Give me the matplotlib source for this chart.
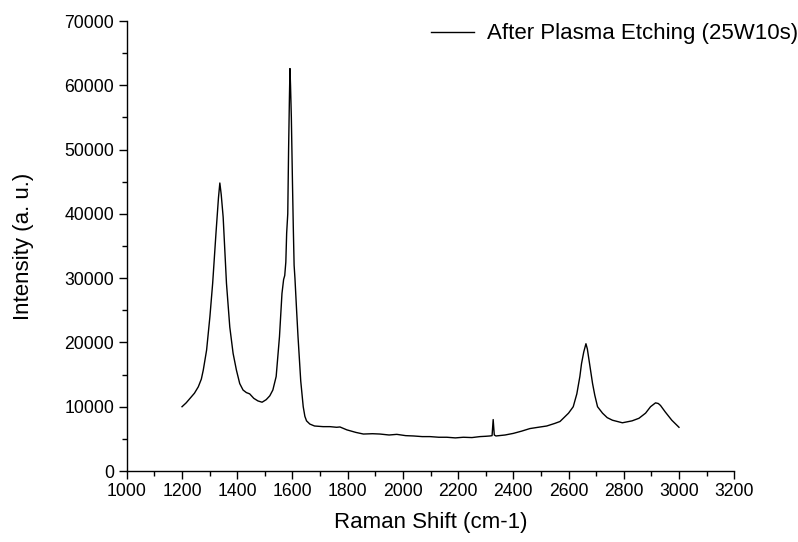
import matplotlib
matplotlib.use("Agg")
import matplotlib.pyplot as plt
from matplotlib.ticker import MultipleLocator

plt.rcParams['font.family'] = ['Liberation Sans', 'DejaVu Sans']

series_label = "After Plasma Etching (25W10s)"
x_label = "Raman Shift (cm-1)"
y_label = "Intensity (a. u.)"

raman_shift = [1200, 1215, 1229, 1245, 1259, 1270, 1277, 1289, 1301, 1311, 1323, 1332,
               1337, 1342, 1349, 1361, 1373, 1385, 1397, 1409, 1421, 1433, 1445, 1460,
               1475, 1490, 1505, 1518, 1529, 1541, 1553, 1562, 1568, 1572, 1576, 1579,
               1583, 1586, 1589, 1591, 1593, 1596, 1600, 1603, 1606, 1609, 1615, 1620,
               1625, 1630, 1639, 1645, 1651, 1663, 1680, 1711, 1736, 1760, 1772, 1797,
               1830, 1857, 1890, 1917, 1950, 1978, 2010, 2038, 2070, 2098, 2130, 2159,
               2190, 2219, 2250, 2279, 2300, 2315, 2323, 2327, 2331, 2337, 2370, 2400,
               2430, 2460, 2490, 2521, 2550, 2569, 2581, 2600, 2617, 2630, 2641, 2647,
               2655, 2663, 2668, 2674, 2687, 2695, 2705, 2723, 2740, 2759, 2795, 2830,
               2855, 2879, 2897, 2915, 2925, 2933, 2950, 2974, 3000]

intensity = [10000, 10600, 11300, 12100, 13100, 14300, 15700, 18800, 24000, 29200, 37000, 42500,
             44800, 43000, 39500, 29200, 22400, 18300, 15700, 13600, 12600, 12200, 12000, 11300,
             10900, 10700, 11100, 11700, 12600, 14700, 20900, 27600, 29800, 30400, 32500, 37000,
             40000, 50000, 58000, 62600, 60000, 55000, 45000, 38000, 32000, 30000, 25000, 21000,
             17500, 14000, 10000, 8500, 7800, 7300, 7000, 6900, 6900, 6800, 6850, 6400,
             6000, 5750, 5800, 5750, 5600, 5700, 5500, 5450, 5350, 5350, 5250, 5250,
             5150, 5250, 5200, 5350, 5400, 5450, 5500, 8000, 5600, 5450, 5600, 5850,
             6200, 6600, 6800, 7000, 7400, 7700, 8200, 9000, 10000, 12000, 14700, 16700,
             18500, 19800, 19000, 17300, 13600, 11800, 10000, 9000, 8300, 7900, 7500, 7800,
             8200, 9000, 10000, 10600, 10500, 10200, 9200, 7900, 6800]

fig = plt.figure(figsize=(7.98, 5.42), dpi=100)
ax = fig.add_axes([126.8 / 798, 1 - 471 / 542, (734.2 - 126.8) / 798, (471 - 21) / 542])

ax.plot(raman_shift, intensity, color='black', linewidth=1.0, label=series_label)

ax.set_xlim(1000, 3200)
ax.set_ylim(0, 70000)
ax.xaxis.set_major_locator(MultipleLocator(200))
ax.xaxis.set_minor_locator(MultipleLocator(100))
ax.yaxis.set_major_locator(MultipleLocator(10000))
ax.yaxis.set_minor_locator(MultipleLocator(5000))

for s in ['top', 'right']:
    ax.spines[s].set_visible(False)
for s in ['left', 'bottom']:
    ax.spines[s].set_linewidth(1.0)

ax.tick_params(which='major', direction='out', length=6, width=1.0, labelsize=12.7, pad=3)
ax.tick_params(which='minor', direction='out', length=3.5, width=1.0)

ax.set_xlabel(x_label, fontsize=16, labelpad=8)
ax.set_ylabel(y_label, fontsize=16)
ax.yaxis.set_label_coords((34 - 126.8) / 607.4, 0.5)

leg = ax.legend(loc='center left', bbox_to_anchor=(431 / 798, 1 - 34 / 542),
                bbox_transform=fig.transFigure, frameon=False, fontsize=16,
                borderpad=0, borderaxespad=0, handlelength=1.95, handletextpad=0.55)

fig.savefig('out.png', dpi=100)
